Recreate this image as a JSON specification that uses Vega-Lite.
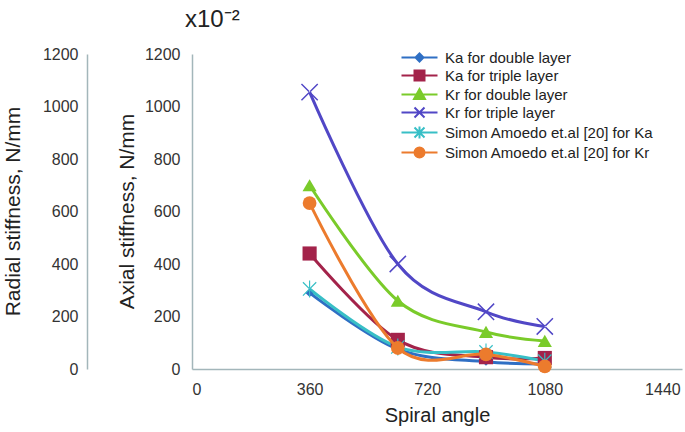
{
  "$schema": "https://vega.github.io/schema/vega-lite/v6.json",
  "width": 490,
  "height": 315,
  "autosize": "none",
  "padding": {"left": 192, "top": 54, "right": 3, "bottom": 63},
  "config": {"view": {"stroke": null}, "font": "Liberation Sans"},
  "title": {"text": "x10⁻²", "anchor": "start", "frame": "group", "fontSize": 24, "fontWeight": "normal", "color": "#222", "baseline": "bottom", "offset": 20, "dx": -7, "dy": 30},
  "data": {"values": [
    {"series": "Ka  for double layer", "angle": 360, "k": 290},
    {"series": "Ka  for double layer", "angle": 630, "k": 76},
    {"series": "Ka  for double layer", "angle": 900, "k": 28},
    {"series": "Ka  for double layer", "angle": 1080, "k": 19},
    {"series": "Ka for triple layer", "angle": 360, "k": 440},
    {"series": "Ka for triple layer", "angle": 630, "k": 111},
    {"series": "Ka for triple layer", "angle": 900, "k": 45},
    {"series": "Ka for triple layer", "angle": 1080, "k": 42},
    {"series": "Simon Amoedo et.al [20] for Ka", "angle": 360, "k": 305},
    {"series": "Simon Amoedo et.al [20] for Ka", "angle": 630, "k": 84},
    {"series": "Simon Amoedo et.al [20] for Ka", "angle": 900, "k": 65},
    {"series": "Simon Amoedo et.al [20] for Ka", "angle": 1080, "k": 30},
    {"series": "Kr for double layer", "angle": 360, "k": 700},
    {"series": "Kr for double layer", "angle": 630, "k": 260},
    {"series": "Kr for double layer", "angle": 900, "k": 141},
    {"series": "Kr for double layer", "angle": 1080, "k": 107},
    {"series": "Kr for triple layer", "angle": 360, "k": 1055},
    {"series": "Kr for triple layer", "angle": 630, "k": 400},
    {"series": "Kr for triple layer", "angle": 900, "k": 218},
    {"series": "Kr for triple layer", "angle": 1080, "k": 162},
    {"series": "Simon Amoedo et.al [20] for Kr", "angle": 360, "k": 632},
    {"series": "Simon Amoedo et.al [20] for Kr", "angle": 630, "k": 80},
    {"series": "Simon Amoedo et.al [20] for Kr", "angle": 900, "k": 56},
    {"series": "Simon Amoedo et.al [20] for Kr", "angle": 1080, "k": 10}
  ]},
  "layer": [
    {
      "transform": [{"filter": {"field": "series", "oneOf": ["Ka  for double layer", "Ka for triple layer", "Simon Amoedo et.al [20] for Ka"]}}],
      "encoding": {
        "x": {"field": "angle", "type": "quantitative", "scale": {"domain": [0, 1500], "nice": false},
          "axis": {"values": [0, 360, 720, 1080, 1440], "format": "d", "grid": false, "ticks": false, "labelPadding": 12, "labelFontSize": 16, "labelColor": "#333", "domainColor": "#a3b6ba", "domainWidth": 1.5, "title": "Spiral angle", "titleFontSize": 20, "titleFontWeight": "normal", "titleColor": "#222", "titlePadding": 8}},
        "y": {"field": "k", "type": "quantitative", "scale": {"domain": [0, 1200], "nice": false},
          "axis": {"orient": "left", "values": [0, 200, 400, 600, 800, 1000, 1200], "format": "d", "grid": false, "ticks": false, "labelPadding": 12, "labelFontSize": 16, "labelColor": "#333", "domainColor": "#a3b6ba", "domainWidth": 1.5, "title": "Axial stiffness, N/mm", "titleFontSize": 21, "titleFontWeight": "normal", "titleColor": "#222", "titleBaseline": "middle", "titleX": -65, "titleY": 157}},
        "color": {"field": "series", "type": "nominal",
          "scale": {"domain": ["Ka  for double layer", "Ka for triple layer", "Kr for double layer", "Kr for triple layer", "Simon Amoedo et.al [20] for Ka", "Simon Amoedo et.al [20] for Kr"], "range": ["#2f6fc4", "#a3234a", "#7acb2a", "#5147c6", "#38bfc6", "#ec7b2d"]},
          "legend": {"orient": "none", "legendX": 220, "legendY": -4, "title": null, "labelFont": "Liberation Sans", "labelFontSize": 15, "labelColor": "#222", "symbolSize": 100, "labelOffset": 18, "rowPadding": 0, "labelLimit": 400,
            "encode": {"symbols": {"update": {
              "shape": {"signal": "['M-3.6,0L3.6,0M0,-0.8L0.8,0L0,0.8L-0.8,0Z','M-3.6,0L3.6,0M-1,-1L1,-1L1,1L-1,1Z','M-3.6,0L3.6,0M0,-1.1L1.1,0.9L-1.1,0.9Z','M-3.6,0L3.6,0M-1,-1L1,1M-1,1L1,-1','M-3.6,0L3.6,0M-1,-1L1,1M-1,1L1,-1M0,-1.2L0,1.2','M-3.6,0L3.6,0M-1,0A1,1 0 1,0 1,0A1,1 0 1,0 -1,0Z'][indexof(domain('color'), datum.value)]"},
              "fill": {"signal": "scale('color', datum.value)"},
              "stroke": {"signal": "scale('color', datum.value)"},
              "strokeWidth": {"value": 2},
              "opacity": {"value": 1}}}}}}
      },
      "layer": [
        {"mark": {"type": "line", "interpolate": "cardinal", "strokeWidth": 3}},
        {"transform": [{"filter": "datum.series == 'Ka  for double layer'"}], "mark": {"type": "point", "filled": true, "opacity": 1, "shape": "diamond", "size": 70}},
        {"transform": [{"filter": "datum.series == 'Ka for triple layer'"}], "mark": {"type": "point", "filled": true, "opacity": 1, "shape": "square", "size": 200}},
        {"transform": [{"filter": "datum.series == 'Simon Amoedo et.al [20] for Ka'"}], "mark": {"type": "point", "filled": true, "opacity": 1, "shape": "M-1,-0.88L-0.88,-1L1,0.88L0.88,1ZM-1,0.88L-0.88,1L1,-0.88L0.88,-1ZM-0.08,-1.2L0.08,-1.2L0.08,1.2L-0.08,1.2Z", "size": 200}}
      ]
    },
    {
      "transform": [{"filter": {"field": "series", "oneOf": ["Kr for double layer", "Kr for triple layer", "Simon Amoedo et.al [20] for Kr"]}}],
      "encoding": {
        "x": {"field": "angle", "type": "quantitative", "scale": {"domain": [0, 1500], "nice": false}},
        "y": {"field": "k", "type": "quantitative", "scale": {"domain": [0, 1200], "nice": false},
          "axis": {"orient": "left", "offset": 105, "values": [0, 200, 400, 600, 800, 1000, 1200], "format": "d", "grid": false, "ticks": false, "labelPadding": 9, "labelFontSize": 16, "labelColor": "#333", "domainColor": "#a3b6ba", "domainWidth": 1.5, "title": "Radial stiffness, N/mm", "titleFontSize": 21, "titleFontWeight": "normal", "titleColor": "#222", "titleBaseline": "middle", "titleX": -74, "titleY": 157}},
        "color": {"field": "series", "type": "nominal",
          "scale": {"domain": ["Ka  for double layer", "Ka for triple layer", "Kr for double layer", "Kr for triple layer", "Simon Amoedo et.al [20] for Ka", "Simon Amoedo et.al [20] for Kr"], "range": ["#2f6fc4", "#a3234a", "#7acb2a", "#5147c6", "#38bfc6", "#ec7b2d"]}}
      },
      "layer": [
        {"mark": {"type": "line", "interpolate": "cardinal", "strokeWidth": 3}},
        {"transform": [{"filter": "datum.series == 'Kr for double layer'"}], "mark": {"type": "point", "filled": true, "opacity": 1, "shape": "triangle-up", "size": 200}},
        {"transform": [{"filter": "datum.series == 'Kr for triple layer'"}], "mark": {"type": "point", "filled": true, "opacity": 1, "shape": "M-1,-0.88L-0.88,-1L1,0.88L0.88,1ZM-1,0.88L-0.88,1L1,-0.88L0.88,-1Z", "size": 300}},
        {"transform": [{"filter": "datum.series == 'Simon Amoedo et.al [20] for Kr'"}], "mark": {"type": "point", "filled": true, "opacity": 1, "shape": "circle", "size": 190}}
      ]
    }
  ],
  "resolve": {"scale": {"y": "independent"}, "axis": {"y": "independent"}}
}
